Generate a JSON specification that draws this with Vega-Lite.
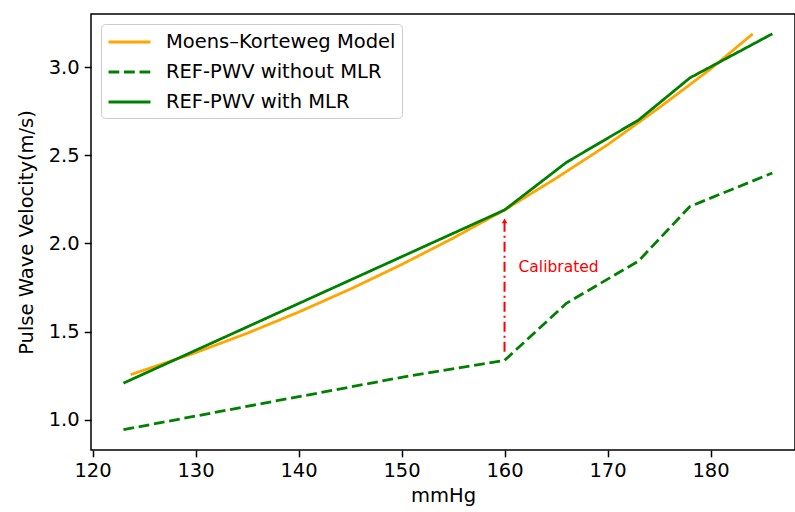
{
  "$schema": "https://vega.github.io/schema/vega-lite/v6.json",
  "width": 704,
  "height": 436,
  "autosize": {"type": "none"},
  "padding": {"left": 91, "top": 14, "right": 0, "bottom": 62},
  "background": "white",
  "config": {
    "font": "DejaVu Sans",
    "view": {"stroke": "#000000", "strokeWidth": 1.5},
    "axis": {
      "domain": false,
      "grid": false,
      "labelFont": "DejaVu Sans",
      "labelFontSize": 19.5,
      "labelColor": "#000000",
      "tickColor": "#000000",
      "tickSize": 6.8,
      "tickWidth": 1.5,
      "labelPadding": 5,
      "titleFont": "DejaVu Sans",
      "titleFontSize": 19.5,
      "titleFontWeight": "normal",
      "titleColor": "#000000"
    },
    "legend": {
      "orient": "top-left",
      "offset": 10,
      "labelFont": "DejaVu Sans",
      "labelFontSize": 19.5,
      "labelColor": "#000000",
      "labelLimit": 0,
      "symbolType": "M-1,0L3,0",
      "symbolSize": 441,
      "symbolStrokeWidth": 2.8,
      "symbolFillColor": "transparent",
      "strokeColor": "#cccccc",
      "fillColor": "rgba(255,255,255,0.8)",
      "cornerRadius": 4,
      "padding": 6,
      "rowPadding": 8,
      "labelOffset": 35
    }
  },
  "datasets": {
    "lines": [
      {"series": "Moens–Korteweg Model", "mmHg": 123.7, "pwv": 1.255},
      {"series": "Moens–Korteweg Model", "mmHg": 130, "pwv": 1.38},
      {"series": "Moens–Korteweg Model", "mmHg": 135, "pwv": 1.49},
      {"series": "Moens–Korteweg Model", "mmHg": 140, "pwv": 1.61},
      {"series": "Moens–Korteweg Model", "mmHg": 145, "pwv": 1.74},
      {"series": "Moens–Korteweg Model", "mmHg": 150, "pwv": 1.88},
      {"series": "Moens–Korteweg Model", "mmHg": 155, "pwv": 2.03},
      {"series": "Moens–Korteweg Model", "mmHg": 160, "pwv": 2.19},
      {"series": "Moens–Korteweg Model", "mmHg": 165, "pwv": 2.37},
      {"series": "Moens–Korteweg Model", "mmHg": 170, "pwv": 2.56},
      {"series": "Moens–Korteweg Model", "mmHg": 175, "pwv": 2.77},
      {"series": "Moens–Korteweg Model", "mmHg": 180, "pwv": 2.99},
      {"series": "Moens–Korteweg Model", "mmHg": 184.1, "pwv": 3.19},
      {"series": "REF-PWV without MLR", "mmHg": 123, "pwv": 0.943},
      {"series": "REF-PWV without MLR", "mmHg": 150, "pwv": 1.24},
      {"series": "REF-PWV without MLR", "mmHg": 160, "pwv": 1.336},
      {"series": "REF-PWV without MLR", "mmHg": 166, "pwv": 1.66},
      {"series": "REF-PWV without MLR", "mmHg": 173, "pwv": 1.9},
      {"series": "REF-PWV without MLR", "mmHg": 178, "pwv": 2.21},
      {"series": "REF-PWV without MLR", "mmHg": 186, "pwv": 2.4},
      {"series": "REF-PWV with MLR", "mmHg": 123, "pwv": 1.207},
      {"series": "REF-PWV with MLR", "mmHg": 160, "pwv": 2.19},
      {"series": "REF-PWV with MLR", "mmHg": 166, "pwv": 2.46},
      {"series": "REF-PWV with MLR", "mmHg": 173, "pwv": 2.7},
      {"series": "REF-PWV with MLR", "mmHg": 178, "pwv": 2.94},
      {"series": "REF-PWV with MLR", "mmHg": 186, "pwv": 3.19}
    ],
    "arrow": [
      {"mmHg": 160, "y0": 1.385, "y1": 2.12}
    ],
    "head": [
      {"mmHg": 160, "pwv": 2.128}
    ],
    "label": [
      {"mmHg": 161.36, "pwv": 1.866, "text": "Calibrated"}
    ]
  },
  "layer": [
    {
      "data": {"name": "lines"},
      "mark": {"type": "line", "strokeWidth": 2.8, "clip": true},
      "encoding": {
        "x": {
          "field": "mmHg",
          "type": "quantitative",
          "scale": {"domain": [119.85, 188.2], "nice": false, "zero": false},
          "axis": {"values": [120, 130, 140, 150, 160, 170, 180], "title": "mmHg", "titlePadding": 6}
        },
        "y": {
          "field": "pwv",
          "type": "quantitative",
          "scale": {"domain": [0.8275, 3.3025], "nice": false, "zero": false},
          "axis": {"values": [1.0, 1.5, 2.0, 2.5, 3.0], "format": ".1f", "title": "Pulse Wave Velocity(m/s)", "titlePadding": 12}
        },
        "color": {
          "field": "series",
          "type": "nominal",
          "scale": {
            "domain": ["Moens–Korteweg Model", "REF-PWV without MLR", "REF-PWV with MLR"],
            "range": ["#FFA500", "#008000", "#008000"]
          },
          "legend": {"title": null}
        },
        "strokeDash": {
          "field": "series",
          "type": "nominal",
          "scale": {
            "domain": ["Moens–Korteweg Model", "REF-PWV without MLR", "REF-PWV with MLR"],
            "range": [[1, 0], [10.8, 4.7], [1, 0]]
          },
          "legend": {"title": null}
        },
        "order": {"field": "mmHg", "type": "quantitative"}
      }
    },
    {
      "data": {"name": "arrow"},
      "mark": {"type": "rule", "color": "#FF0000", "strokeWidth": 2, "strokeDash": [10, 4, 2, 4]},
      "encoding": {
        "x": {"field": "mmHg", "type": "quantitative"},
        "y": {"field": "y0", "type": "quantitative"},
        "y2": {"field": "y1"}
      }
    },
    {
      "data": {"name": "head"},
      "mark": {"type": "point", "shape": "triangle-up", "filled": true, "color": "#FF0000", "size": 30, "opacity": 1},
      "encoding": {
        "x": {"field": "mmHg", "type": "quantitative"},
        "y": {"field": "pwv", "type": "quantitative"}
      }
    },
    {
      "data": {"name": "label"},
      "mark": {"type": "text", "color": "#FF0000", "fontSize": 15.5, "font": "DejaVu Sans", "align": "left", "baseline": "middle"},
      "encoding": {
        "x": {"field": "mmHg", "type": "quantitative"},
        "y": {"field": "pwv", "type": "quantitative"},
        "text": {"field": "text"}
      }
    }
  ]
}
